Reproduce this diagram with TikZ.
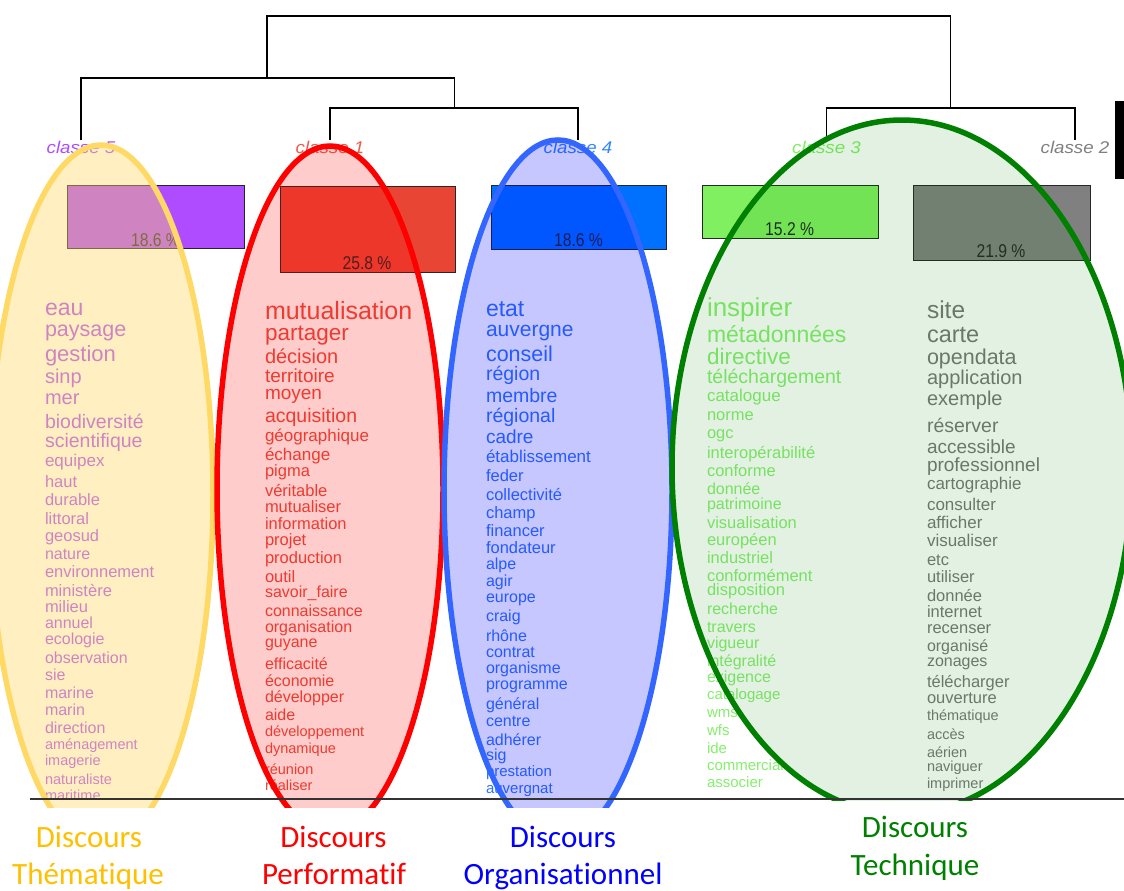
\documentclass[tikz,border=0pt]{standalone}
\usepackage{fontspec}
\usepackage{graphicx}
\setmainfont{Liberation Sans}
\newfontfamily\calibrifont[Ligatures=NoCommon]{Carlito}

% class colours (bars, labels, words)
\definecolor{cfive}{HTML}{B04CFF}
\definecolor{cone}{HTML}{E84535}
\definecolor{cfour}{HTML}{0070FF}
\definecolor{cthree}{HTML}{80F060}
\definecolor{ctwo}{HTML}{808080}
\definecolor{tfive}{HTML}{B04CFF}
\definecolor{tone}{HTML}{EA4A3C}
\definecolor{tfour}{HTML}{2F74FF}
\definecolor{tthree}{HTML}{86EE6E}
\definecolor{ttwo}{HTML}{787878}
\definecolor{lone}{HTML}{F05A4A}
\definecolor{lfour}{HTML}{3385FF}
% discourse zones
\definecolor{zy}{HTML}{FFD966}
\definecolor{zr}{HTML}{FF0000}
\definecolor{zb}{HTML}{3366FF}
\definecolor{zg}{HTML}{008000}
\definecolor{dy}{HTML}{FFC000}
\definecolor{dr}{HTML}{FF0000}
\definecolor{db}{HTML}{0000FF}
\definecolor{dg}{HTML}{008000}

\begin{document}
\begin{tikzpicture}[x=1pt,y=-1pt,
  word/.style={anchor=base west, inner sep=0pt, outer sep=0pt},
  classlab/.style={anchor=base, inner sep=0pt, font=\itshape\fontsize{17}{17}\selectfont},
  barbox/.style={draw=black!85, line width=1.4pt, anchor=north west, inner sep=0pt},
  pct/.style={anchor=base, inner sep=0pt, text=black!85, font=\fontsize{18.5}{18.5}\selectfont},
  tree/.style={draw=black, line width=1.3pt},
  discours/.style={anchor=base, inner sep=0pt, font=\calibrifont\fontsize{31}{31}\selectfont},
  zone/.style={line width=5.5pt},
  axisline/.style={draw=black!80, line width=1.5pt}]
\useasboundingbox (0,0) rectangle (1124,891);
\fill[white] (0,0) rectangle (1124,891);

% ---- class labels and dendrogram ----
\node[classlab, text=cfive] (lab5) at (81,153) {\scalebox{1.1}[1]{classe 5}};
\node[classlab, text=lone] (lab1) at (330,153) {\scalebox{1.1}[1]{classe 1}};
\node[classlab, text=lfour] (lab4) at (578,153) {\scalebox{1.1}[1]{classe 4}};
\node[classlab, text=cthree] (lab3) at (826.5,153) {\scalebox{1.1}[1]{classe 3}};
\node[classlab, text=ctwo] (lab2) at (1075,153) {\scalebox{1.1}[1]{classe 2}};

\coordinate (m14) at (454.5,108);
\coordinate (m514) at (267,78);
\coordinate (m32) at (950.5,108);
\coordinate (top) at (608.75,16);
\draw[tree] (lab1.north) |- (m14) -| (lab4.north);
\draw[tree] (lab5.north) |- (m514) -| (m14);
\draw[tree] (lab3.north) |- (m32) -| (lab2.north);
\draw[tree] (m514) |- (top) -| (m32);

\node[fill=black, anchor=north west, inner sep=0pt, minimum width=9.5pt, minimum height=78pt] (edgebar) at (1114.5,101) {};

% ---- class size bars ----
\node[barbox, fill=cfive, minimum width=177pt, minimum height=63pt] (bar5) at (67,185) {};
\node[barbox, fill=cone, minimum width=175pt, minimum height=86pt] (bar1) at (279.6,186) {};
\node[barbox, fill=cfour, minimum width=175pt, minimum height=64pt] (bar4) at (491,185) {};
\node[barbox, fill=cthree, minimum width=175.5pt, minimum height=53pt] (bar3) at (702,185) {};
\node[barbox, fill=ctwo, minimum width=177pt, minimum height=75pt] (bar2) at (912.5,185) {};
\node[pct] (p5) at (155.5,246) {\scalebox{0.85}[1]{18.6 \%}};
\node[pct] (p1) at (367,269) {\scalebox{0.85}[1]{25.8 \%}};
\node[pct] (p4) at (578.5,246) {\scalebox{0.85}[1]{18.6 \%}};
\node[pct] (p3) at (789.7,235) {\scalebox{0.85}[1]{15.2 \%}};
\node[pct] (p2) at (1001,257) {\scalebox{0.85}[1]{21.9 \%}};

% ---- characteristic words of each class ----
\begin{scope}
\clip (0,0) rectangle (1124,799);
\foreach \w/\b/\s [count=\i] in {eau/315/23, paysage/336.5/21.5, gestion/361.7/22, sinp/383.2/20, mer/404.5/20,
  biodiversité/428.8/19.5, scientifique/447/19.5, equipex/466.4/17, haut/487/16.5, durable/505.6/16.5,
  littoral/524.3/16.5, geosud/541.3/16.5, nature/559.9/16, environnement/577/16.5, ministère/596.3/16.5,
  milieu/612/16.5, annuel/628.9/16, ecologie/644.9/16, observation/663.5/16, sie/680.9/16, marine/698.5/16,
  marin/715.9/16, direction/733.2/16, aménagement/749.8/14.5, imagerie/765.5/14.5, naturaliste/784.5/14.5,
  maritime/800.8/14.5}
  \node[word, text=tfive, font=\fontsize{\s}{\s}\selectfont] (w5-\i) at (45,\b) {\w};

\foreach \w/\b/\s [count=\i] in {mutualisation/319.2/25, partager/340.6/22.5, décision/363.2/20, territoire/382/19,
  moyen/399.6/19, acquisition/422.4/19.5, géographique/441.1/17, échange/460.1/17, pigma/476.6/16.5,
  véritable/496.3/16.5, mutualiser/512.3/16.5, information/529.6/16.5, projet/545.6/16.5, production/563/16.5,
  outil/582/16.5, savoir\_faire/597.9/16, connaissance/616.2/16, organisation/632.2/16, guyane/647.9/16,
  efficacité/669.5/16, économie/686.9/16, développer/702.9/16, aide/720.2/16, développement/736.5/14.5,
  dynamique/753.1/14.5, réunion/774.1/14.5, réaliser/790.8/14.5}
  \node[word, text=tone, font=\fontsize{\s}{\s}\selectfont] (w1-\i) at (265,\b) {\w};

\foreach \w/\b/\s [count=\i] in {etat/316.5/23, auvergne/336/21, conseil/361.6/21.5, région/380.4/19.5,
  membre/402.8/19.5, régional/422.8/19.5, cadre/443.6/19, établissement/462.7/17, feder/481.6/16.5,
  collectivité/500.6/16.5, champ/518/16.5, financer/536/16.5, fondateur/553.3/16.5, alpe/569.5/16,
  agir/586.5/16, europe/602.9/16, craig/621.9/16, rhône/641.5/16, contrat/657.9/16, organisme/673.2/16,
  programme/689.5/16, général/709.5/16, centre/726.9/16, adhérer/745.5/16, sig/760.9/16,
  prestation/776.6/15, auvergnat/793.9/15}
  \node[word, text=tfour, font=\fontsize{\s}{\s}\selectfont] (w4-\i) at (486,\b) {\w};

\foreach \w/\b/\s [count=\i] in {inspirer/316/26, métadonnées/342/23, directive/364.2/22.5,
  téléchargement/383.8/19.5, catalogue/401.1/17, norme/420.3/16.5, ogc/438.3/16.5,
  interopérabilité/458/16.5, conforme/476.3/16.5, donnée/494/16, patrimoine/509.5/16,
  visualisation/528/16.5, européen/545.6/16.5, industriel/563/16.5, conformément/581.3/16.5,
  disposition/595.6/16.5, recherche/614.5/16, travers/632.5/16, vigueur/648.2/16, intégralité/666.9/16,
  exigence/682.9/16, catalogage/699.9/15, wms/717.9/15, wfs/735.9/15, ide/753.2/15, commercial/770.9/15,
  associer/787.6/15}
  \node[word, text=tthree, font=\fontsize{\s}{\s}\selectfont] (w3-\i) at (707,\b) {\w};

\foreach \w/\b/\s [count=\i] in {site/318.7/24.5, carte/342.5/23.5, opendata/364/21.5, application/384.6/20,
  exemple/405.9/20, réserver/432.1/19.5, accessible/453.6/19, professionnel/471/19,
  cartographie/489.7/17, consulter/510.1/17, afficher/528.7/17, visualiser/546.4/17, etc/565/16.5,
  utiliser/582/16.5, donnée/601.3/16.5, internet/617/16.5, recenser/633.3/16.5, organisé/651.5/16,
  zonages/666.3/16, télécharger/687/16.5, ouverture/703.6/16.5, thématique/720.5/14.5, accès/739.5/14.5,
  aérien/757.1/14.5, naviguer/771.1/14.5, imprimer/788.5/14.5}
  \node[word, text=ttwo, font=\fontsize{\s}{\s}\selectfont] (w2-\i) at (927,\b) {\w};
\end{scope}

% ---- discourse zones ----
\begin{scope}
\clip (-10,0) rectangle (1134,807);
\draw[zone, draw=zy, fill=zy, fill opacity=0.4] (101,495) ellipse [x radius=112pt, y radius=350pt];
\draw[zone, draw=zr, fill=zr, fill opacity=0.2] (330,489) ellipse [x radius=113pt, y radius=343pt];
\draw[zone, draw=zb, fill=blue, fill opacity=0.22] (558,490) ellipse [x radius=114pt, y radius=350pt];
\end{scope}
\begin{scope}
\clip (-10,0) rectangle (1134,800);
\draw[zone, draw=zg, fill=zg, fill opacity=0.11] (902,467) ellipse [x radius=230pt, y radius=347pt];
\end{scope}

\coordinate (axisL) at (30,799);
\coordinate (axisR) at (1124,799);
\draw[axisline] (axisL) -- (axisR);

% ---- discourse names ----
\node[discours, text=dy] (dthema) at (89,847) {Discours};
\node[discours, text=dy] (dthemb) at (88,884) {Thématique};
\node[discours, text=dr] (dperfa) at (333.5,847) {Discours};
\node[discours, text=dr] (dperfb) at (334,884) {Performatif};
\node[discours, text=db] (dorga) at (563,847) {Discours};
\node[discours, text=db] (dorgb) at (563,884) {Organisationnel};
\node[discours, text=dg] (dtecha) at (915,837) {Discours};
\node[discours, text=dg] (dtechb) at (915,875) {Technique};
\end{tikzpicture}
\end{document}
